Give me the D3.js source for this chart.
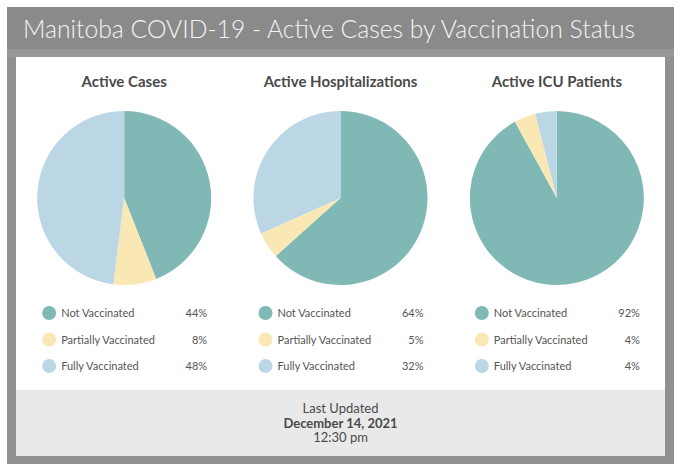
<!DOCTYPE html>
<html>
<head>
<meta charset="utf-8">
<script src="https://cdn.jsdelivr.net/npm/d3@7"></script>
<style>
  body { margin: 0; background: #fff; }
  text { font-family: Lato, "Open Sans", sans-serif; }
</style>
</head>
<body>
<div id="container"></div>
<script>
let w = 680;
let h = 473;

// data
let title = "Manitoba COVID-19 - Active Cases by Vaccination Status";
let panels = ["Active Cases", "Active Hospitalizations", "Active ICU Patients"];
let statuses = ["Not Vaccinated", "Partially Vaccinated", "Fully Vaccinated"];
let casesPct = [44, 8, 48];
let hospPct = [64, 5, 32];
let icuPct = [92, 4, 4];
let footerLines = ["Last Updated", "December 14, 2021", "12:30 pm"];

let allValues = [casesPct, hospPct, icuPct];
let colors = ["#7fb8b5", "#fae8b4", "#bbd7e6"];

let viz = d3.select("#container")
  .append("svg")
    .attr("width", w)
    .attr("height", h)
    .style("background-color", "white")
;

// frame + title bar
viz.append("rect").attr("x", 7).attr("y", 7).attr("width", 667).attr("height", 457).attr("fill", "#909090");
viz.append("rect").attr("x", 7).attr("y", 7).attr("width", 667).attr("height", 42).attr("fill", "#8a8a8a");
viz.append("rect").attr("x", 7).attr("y", 49).attr("width", 667).attr("height", 8).attr("fill", "#979797");
viz.append("rect").attr("x", 16).attr("y", 57).attr("width", 649).attr("height", 333).attr("fill", "#ffffff");
viz.append("rect").attr("x", 16).attr("y", 390).attr("width", 649).attr("height", 66).attr("fill", "#e9e9e9");

viz.append("text")
  .attr("x", 23)
  .attr("y", 38)
  .attr("fill", "#f4f4f4")
  .style("font-size", "25px")
  .style("font-weight", 300)
  .attr("textLength", 612)
  .attr("lengthAdjust", "spacingAndGlyphs")
  .text(title);

let colScale = d3.scaleBand().domain(panels).range([16, 665]);
let pie = d3.pie().sort(null).value(d => d);
let arc = d3.arc().innerRadius(0).outerRadius(87);

let groups = viz.selectAll(".panel").data(panels).enter()
  .append("g")
    .classed("panel", true)
    .attr("transform", d => "translate(" + (colScale(d) + colScale.bandwidth() / 2) + ",0)")
;

groups.append("text")
  .attr("x", 0)
  .attr("y", 87)
  .attr("text-anchor", "middle")
  .attr("fill", "#4a4a4a")
  .style("font-size", "15px")
  .style("font-weight", "bold")
  .text(d => d);

groups.append("g")
  .attr("transform", "translate(0,198)")
  .selectAll("path")
  .data((d, i) => pie(allValues[i]))
  .enter()
  .append("path")
    .attr("d", arc)
    .attr("fill", (d, i) => colors[i])
;

let rowScale = d3.scalePoint().domain(statuses).range([313, 366]);

let rows = groups.selectAll(".row")
  .data((d, i) => statuses.map((s, j) => ({ status: s, pct: allValues[i][j], k: j })))
  .enter()
  .append("g")
    .classed("row", true)
    .attr("transform", d => "translate(0," + rowScale(d.status) + ")")
;

rows.append("circle")
  .attr("cx", -75)
  .attr("cy", 0)
  .attr("r", 7)
  .attr("fill", d => colors[d.k]);

rows.append("text")
  .attr("x", -63)
  .attr("y", 4)
  .attr("fill", "#555")
  .style("font-size", "11px")
  .text(d => d.status);

rows.append("text")
  .attr("x", 83)
  .attr("y", 4)
  .attr("text-anchor", "end")
  .attr("fill", "#555")
  .style("font-size", "11px")
  .text(d => d.pct + "%");

// footer
viz.selectAll(".foot").data(footerLines).enter()
  .append("text")
    .classed("foot", true)
    .attr("x", 340.5)
    .attr("y", (d, i) => 413 + i * 14.5)
    .attr("text-anchor", "middle")
    .attr("fill", "#4a4a4a")
    .style("font-size", "13px")
    .style("font-weight", (d, i) => i == 1 ? "bold" : "normal")
    .text(d => d);
</script>
</body>
</html>
